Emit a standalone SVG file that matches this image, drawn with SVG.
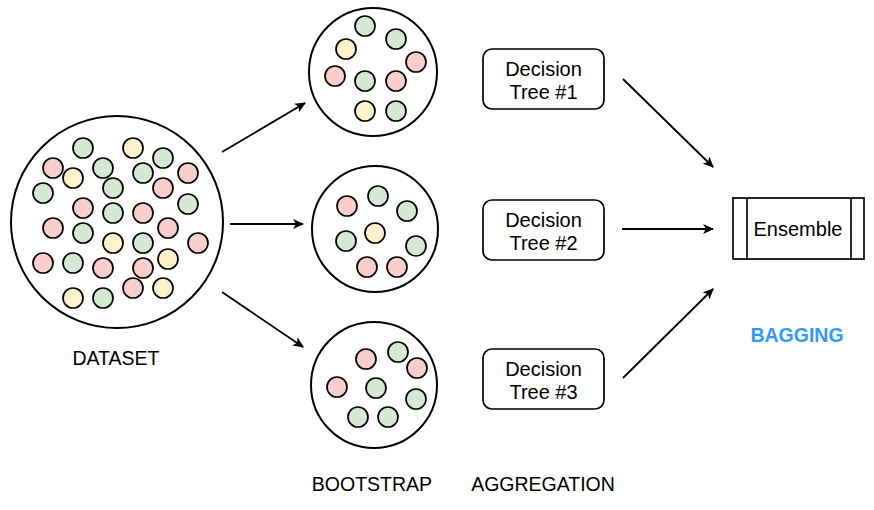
<svg xmlns="http://www.w3.org/2000/svg" width="874" height="510" viewBox="0 0 874 510">
<defs>
<style>
.big{fill:#fff;stroke:#000;stroke-width:2}
.g{fill:#d5e8d4;stroke:#000;stroke-width:1.7}
.p{fill:#f8cecc;stroke:#000;stroke-width:1.7}
.y{fill:#fff2cc;stroke:#000;stroke-width:1.7}
.box{fill:#fff;stroke:#000;stroke-width:1.7}
.t{font-family:"Liberation Sans",Arial,sans-serif;font-size:20px;fill:#000;text-anchor:middle}
.lbl{font-family:"Liberation Sans",Arial,sans-serif;font-size:19.5px;fill:#000;text-anchor:middle}
.conn{stroke:#000;stroke-width:1.8;fill:none;marker-end:url(#ah)}
</style>
<marker id="ah" viewBox="0 0 10 10" refX="9" refY="5" markerWidth="11" markerHeight="11" orient="auto" markerUnits="userSpaceOnUse">
<path d="M0,0.5 L10,5 L0,9.5 L2.5,5 Z" fill="#000"/>
</marker>
</defs>
<rect width="874" height="510" fill="#fff"/>

<g id="dataset">
<circle class="big" cx="117" cy="222" r="106"/>
<circle class="g" cx="83" cy="148" r="10"/>
<circle class="y" cx="133" cy="148" r="10"/>
<circle class="g" cx="163" cy="158" r="10"/>
<circle class="p" cx="53" cy="168" r="10"/>
<circle class="g" cx="103" cy="168" r="10"/>
<circle class="y" cx="73" cy="178" r="10"/>
<circle class="g" cx="143" cy="173" r="10"/>
<circle class="p" cx="188" cy="173" r="10"/>
<circle class="g" cx="113" cy="188" r="10"/>
<circle class="g" cx="43" cy="193" r="10"/>
<circle class="p" cx="163" cy="188" r="10"/>
<circle class="g" cx="188" cy="204" r="10"/>
<circle class="p" cx="83" cy="208" r="10"/>
<circle class="g" cx="113" cy="213" r="10"/>
<circle class="p" cx="143" cy="213" r="10"/>
<circle class="p" cx="53" cy="228" r="10"/>
<circle class="g" cx="83" cy="233" r="10"/>
<circle class="p" cx="168" cy="228" r="10"/>
<circle class="y" cx="113" cy="243" r="10"/>
<circle class="g" cx="143" cy="243" r="10"/>
<circle class="p" cx="198" cy="243" r="10"/>
<circle class="p" cx="43" cy="263" r="10"/>
<circle class="g" cx="73" cy="263" r="10"/>
<circle class="p" cx="103" cy="268" r="10"/>
<circle class="p" cx="143" cy="268" r="10"/>
<circle class="y" cx="168" cy="259" r="10"/>
<circle class="p" cx="133" cy="288" r="10"/>
<circle class="y" cx="163" cy="288" r="10"/>
<circle class="y" cx="73" cy="298" r="10"/>
<circle class="g" cx="103" cy="298" r="10"/>
</g>

<g id="bootstrap1">
<circle class="big" cx="373" cy="72" r="64"/>
<circle class="g" cx="365" cy="26" r="10"/>
<circle class="g" cx="396" cy="39" r="10"/>
<circle class="y" cx="346" cy="49" r="10"/>
<circle class="p" cx="416" cy="62" r="10"/>
<circle class="p" cx="335" cy="76" r="10"/>
<circle class="g" cx="365" cy="81" r="10"/>
<circle class="p" cx="396" cy="81" r="10"/>
<circle class="y" cx="365" cy="111" r="10"/>
<circle class="g" cx="396" cy="111" r="10"/>
</g>

<g id="bootstrap2">
<circle class="big" cx="375" cy="229" r="63"/>
<circle class="p" cx="347" cy="206" r="10"/>
<circle class="g" cx="378" cy="196" r="10"/>
<circle class="g" cx="407" cy="211" r="10"/>
<circle class="y" cx="375" cy="233" r="10"/>
<circle class="g" cx="346" cy="241" r="10"/>
<circle class="g" cx="416" cy="246" r="10"/>
<circle class="p" cx="367" cy="267" r="10"/>
<circle class="p" cx="397" cy="267" r="10"/>
</g>

<g id="bootstrap3">
<circle class="big" cx="374" cy="385" r="63"/>
<circle class="p" cx="366" cy="359" r="10"/>
<circle class="g" cx="398" cy="352" r="10"/>
<circle class="p" cx="417" cy="368" r="10"/>
<circle class="p" cx="337" cy="387" r="10"/>
<circle class="g" cx="376" cy="388" r="10"/>
<circle class="g" cx="416" cy="399" r="10"/>
<circle class="g" cx="358" cy="417" r="10"/>
<circle class="g" cx="388" cy="417" r="10"/>
</g>

<g id="tree1">
<rect class="box" x="483" y="49" width="121" height="60" rx="9"/>
<text class="t" x="543.5" y="76">Decision</text>
<text class="t" x="543.5" y="99">Tree #1</text>
</g>
<g id="tree2">
<rect class="box" x="483" y="200" width="121" height="60" rx="9"/>
<text class="t" x="543.5" y="227">Decision</text>
<text class="t" x="543.5" y="250">Tree #2</text>
</g>
<g id="tree3">
<rect class="box" x="483" y="349" width="121" height="60" rx="9"/>
<text class="t" x="543.5" y="376">Decision</text>
<text class="t" x="543.5" y="399">Tree #3</text>
</g>

<g id="ensemble">
<rect class="box" x="733" y="198" width="131" height="61"/>
<line x1="747" y1="198" x2="747" y2="259" stroke="#000" stroke-width="1.7"/>
<line x1="851" y1="198" x2="851" y2="259" stroke="#000" stroke-width="1.7"/>
<text class="t" x="798" y="236">Ensemble</text>
</g>

<g id="labels">
<text class="lbl" x="116" y="365">DATASET</text>
<text class="lbl" x="372" y="491">BOOTSTRAP</text>
<text class="lbl" x="543" y="491">AGGREGATION</text>
<text class="lbl" x="797" y="342" style="font-weight:bold;fill:#3399ff">BAGGING</text>
</g>

<g id="connectors">
<line class="conn" x1="222" y1="152" x2="305" y2="103"/>
<line class="conn" x1="230" y1="224" x2="303" y2="224"/>
<line class="conn" x1="222" y1="292" x2="303" y2="347"/>
<line class="conn" x1="623" y1="79" x2="713" y2="167"/>
<line class="conn" x1="622" y1="229" x2="713" y2="229"/>
<line class="conn" x1="623" y1="378" x2="713" y2="289"/>
</g>
</svg>
